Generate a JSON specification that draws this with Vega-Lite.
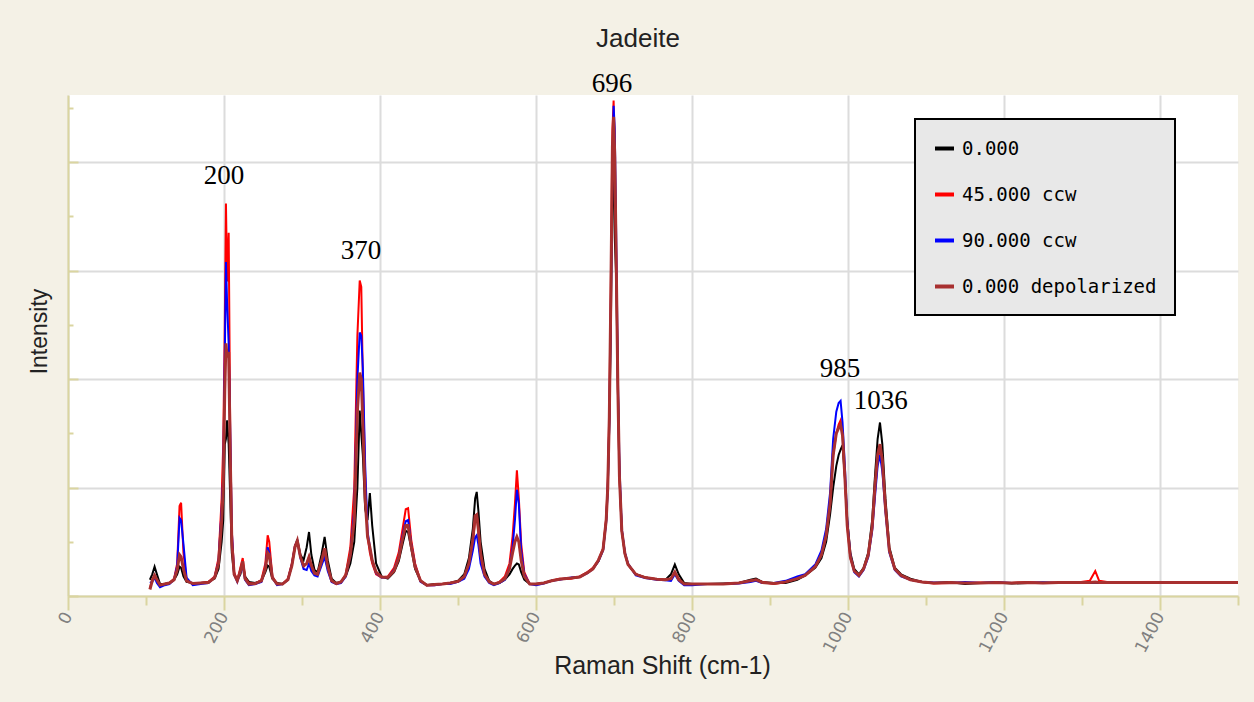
{
  "$schema": "https://vega.github.io/schema/vega-lite/v6.json",
  "width": 1170,
  "height": 501,
  "autosize": {"type": "none"},
  "padding": {"left": 68, "top": 95, "right": 16, "bottom": 106},
  "background": "#f4f1e6",
  "title": {"text": "Jadeite", "font": "Liberation Sans", "fontSize": 26, "fontWeight": "normal", "color": "#222222", "anchor": "middle", "frame": "group", "dx": -15, "dy": 25, "offset": 22, "baseline": "alphabetic"},
  "config": {"view": {"fill": "#ffffff", "stroke": null}},
  "resolve": {"axis": {"x": "independent", "y": "independent"}},
  "data": {"values": [
    {"x":105,"a":150,"b":70,"c":120,"d":60},
    {"x":108,"a":200,"b":150,"c":130,"d":140},
    {"x":111,"a":270,"b":190,"c":170,"d":190},
    {"x":114,"a":200,"b":150,"c":120,"d":150},
    {"x":118,"a":110,"b":100,"c":80,"d":100},
    {"x":124,"a":110,"b":110,"c":100,"d":110},
    {"x":130,"a":120,"b":120,"c":110,"d":120},
    {"x":136,"a":150,"b":160,"c":150,"d":150},
    {"x":140,"a":200,"b":300,"c":280,"d":240},
    {"x":143,"a":270,"b":830,"c":720,"d":380},
    {"x":145,"a":260,"b":860,"c":700,"d":360},
    {"x":148,"a":180,"b":400,"c":480,"d":250},
    {"x":152,"a":130,"b":150,"c":170,"d":140},
    {"x":160,"a":120,"b":110,"c":100,"d":115},
    {"x":170,"a":120,"b":120,"c":110,"d":120},
    {"x":180,"a":130,"b":130,"c":120,"d":125},
    {"x":188,"a":160,"b":180,"c":170,"d":170},
    {"x":193,"a":250,"b":350,"c":320,"d":300},
    {"x":197,"a":500,"b":900,"c":800,"d":700},
    {"x":199,"a":700,"b":1400,"c":1100,"d":1000},
    {"x":201,"a":1400,"b":2500,"c":2200,"d":1900},
    {"x":202.5,"a":1450,"b":3620,"c":3080,"d":2330},
    {"x":204,"a":1620,"b":2900,"c":2700,"d":2200},
    {"x":206,"a":1400,"b":3350,"c":2320,"d":2250},
    {"x":208,"a":900,"b":1500,"c":1500,"d":1300},
    {"x":210,"a":400,"b":600,"c":600,"d":500},
    {"x":213,"a":200,"b":220,"c":200,"d":200},
    {"x":217,"a":150,"b":140,"c":130,"d":140},
    {"x":221,"a":200,"b":260,"c":220,"d":230},
    {"x":224,"a":300,"b":350,"c":280,"d":320},
    {"x":227,"a":180,"b":170,"c":150,"d":160},
    {"x":232,"a":130,"b":120,"c":100,"d":110},
    {"x":240,"a":120,"b":110,"c":110,"d":115},
    {"x":248,"a":140,"b":150,"c":130,"d":140},
    {"x":253,"a":220,"b":300,"c":260,"d":250},
    {"x":256,"a":280,"b":560,"c":450,"d":400},
    {"x":258,"a":270,"b":500,"c":400,"d":380},
    {"x":262,"a":160,"b":180,"c":170,"d":170},
    {"x":268,"a":120,"b":110,"c":100,"d":110},
    {"x":275,"a":110,"b":110,"c":110,"d":110},
    {"x":282,"a":150,"b":160,"c":150,"d":150},
    {"x":287,"a":280,"b":300,"c":290,"d":280},
    {"x":291,"a":450,"b":470,"c":460,"d":450},
    {"x":294,"a":520,"b":500,"c":510,"d":510},
    {"x":298,"a":380,"b":360,"c":350,"d":360},
    {"x":302,"a":330,"b":270,"c":250,"d":280},
    {"x":306,"a":450,"b":300,"c":240,"d":300},
    {"x":309,"a":590,"b":360,"c":300,"d":360},
    {"x":312,"a":380,"b":260,"c":230,"d":280},
    {"x":316,"a":240,"b":200,"c":190,"d":210},
    {"x":320,"a":220,"b":200,"c":180,"d":200},
    {"x":325,"a":380,"b":330,"c":280,"d":320},
    {"x":329,"a":545,"b":424,"c":360,"d":440},
    {"x":333,"a":330,"b":260,"c":230,"d":270},
    {"x":338,"a":160,"b":140,"c":130,"d":140},
    {"x":344,"a":120,"b":110,"c":110,"d":115},
    {"x":350,"a":130,"b":130,"c":120,"d":130},
    {"x":356,"a":180,"b":200,"c":180,"d":190},
    {"x":362,"a":300,"b":450,"c":380,"d":380},
    {"x":367,"a":500,"b":1000,"c":800,"d":700},
    {"x":371,"a":1000,"b":2400,"c":2000,"d":1700},
    {"x":374,"a":1710,"b":2910,"c":2430,"d":2060},
    {"x":376,"a":1500,"b":2850,"c":2400,"d":2000},
    {"x":378,"a":1300,"b":2000,"c":2100,"d":1600},
    {"x":381,"a":800,"b":1100,"c":1200,"d":900},
    {"x":384,"a":700,"b":550,"c":600,"d":550},
    {"x":387,"a":950,"b":400,"c":450,"d":450},
    {"x":390,"a":650,"b":300,"c":330,"d":330},
    {"x":395,"a":300,"b":200,"c":210,"d":220},
    {"x":402,"a":180,"b":170,"c":170,"d":175},
    {"x":410,"a":160,"b":180,"c":170,"d":170},
    {"x":418,"a":220,"b":260,"c":240,"d":230},
    {"x":424,"a":320,"b":400,"c":360,"d":350},
    {"x":429,"a":480,"b":620,"c":560,"d":530},
    {"x":433,"a":600,"b":800,"c":690,"d":650},
    {"x":436,"a":590,"b":810,"c":700,"d":650},
    {"x":440,"a":440,"b":520,"c":480,"d":460},
    {"x":445,"a":250,"b":300,"c":280,"d":270},
    {"x":452,"a":140,"b":140,"c":130,"d":140},
    {"x":460,"a":100,"b":100,"c":100,"d":100},
    {"x":470,"a":110,"b":100,"c":100,"d":105},
    {"x":480,"a":110,"b":110,"c":110,"d":110},
    {"x":490,"a":120,"b":120,"c":110,"d":120},
    {"x":500,"a":140,"b":130,"c":130,"d":135},
    {"x":508,"a":200,"b":170,"c":160,"d":180},
    {"x":514,"a":350,"b":290,"c":250,"d":300},
    {"x":519,"a":620,"b":500,"c":420,"d":520},
    {"x":522,"a":900,"b":700,"c":540,"d":740},
    {"x":524,"a":960,"b":750,"c":560,"d":750},
    {"x":526,"a":800,"b":620,"c":480,"d":620},
    {"x":529,"a":500,"b":380,"c":300,"d":390},
    {"x":534,"a":250,"b":200,"c":180,"d":200},
    {"x":540,"a":140,"b":130,"c":120,"d":130},
    {"x":546,"a":110,"b":110,"c":100,"d":110},
    {"x":553,"a":120,"b":130,"c":120,"d":125},
    {"x":560,"a":150,"b":180,"c":150,"d":160},
    {"x":566,"a":200,"b":300,"c":260,"d":250},
    {"x":570,"a":250,"b":550,"c":450,"d":400},
    {"x":573,"a":280,"b":850,"c":700,"d":500},
    {"x":575.5,"a":300,"b":1160,"c":980,"d":545},
    {"x":578,"a":290,"b":900,"c":850,"d":500},
    {"x":581,"a":220,"b":480,"c":420,"d":330},
    {"x":585,"a":150,"b":220,"c":200,"d":180},
    {"x":592,"a":110,"b":110,"c":110,"d":110},
    {"x":600,"a":110,"b":110,"c":100,"d":110},
    {"x":610,"a":120,"b":120,"c":115,"d":120},
    {"x":620,"a":140,"b":140,"c":140,"d":140},
    {"x":630,"a":155,"b":160,"c":150,"d":155},
    {"x":645,"a":165,"b":160,"c":170,"d":165},
    {"x":656,"a":175,"b":180,"c":175,"d":175},
    {"x":666,"a":215,"b":220,"c":210,"d":215},
    {"x":673,"a":250,"b":260,"c":250,"d":250},
    {"x":680,"a":320,"b":330,"c":320,"d":330},
    {"x":686,"a":430,"b":440,"c":420,"d":430},
    {"x":690,"a":700,"b":720,"c":680,"d":700},
    {"x":692,"a":1000,"b":1050,"c":980,"d":1000},
    {"x":694,"a":1600,"b":1700,"c":1600,"d":1650},
    {"x":696,"a":2500,"b":2900,"c":2700,"d":2800},
    {"x":698,"a":3940,"b":4300,"c":3900,"d":4150},
    {"x":699.5,"a":3800,"b":4570,"c":4520,"d":4420},
    {"x":701,"a":3300,"b":4100,"c":4300,"d":4050},
    {"x":703,"a":2900,"b":3000,"c":3200,"d":3000},
    {"x":705,"a":1900,"b":1900,"c":2000,"d":1900},
    {"x":707,"a":1100,"b":1100,"c":1200,"d":1100},
    {"x":710,"a":600,"b":600,"c":620,"d":600},
    {"x":714,"a":390,"b":390,"c":400,"d":390},
    {"x":718,"a":290,"b":290,"c":300,"d":290},
    {"x":728,"a":200,"b":200,"c":190,"d":200},
    {"x":740,"a":170,"b":170,"c":165,"d":170},
    {"x":755,"a":155,"b":155,"c":150,"d":155},
    {"x":766,"a":150,"b":150,"c":145,"d":150},
    {"x":773,"a":200,"b":160,"c":140,"d":160},
    {"x":778,"a":290,"b":220,"c":200,"d":220},
    {"x":783,"a":200,"b":160,"c":140,"d":150},
    {"x":790,"a":120,"b":110,"c":100,"d":110},
    {"x":800,"a":110,"b":110,"c":100,"d":110},
    {"x":820,"a":110,"b":110,"c":110,"d":110},
    {"x":840,"a":115,"b":110,"c":110,"d":110},
    {"x":860,"a":120,"b":120,"c":115,"d":120},
    {"x":875,"a":150,"b":140,"c":130,"d":140},
    {"x":882,"a":160,"b":150,"c":140,"d":150},
    {"x":890,"a":130,"b":130,"c":120,"d":125},
    {"x":905,"a":120,"b":110,"c":120,"d":115},
    {"x":920,"a":120,"b":130,"c":140,"d":130},
    {"x":935,"a":150,"b":160,"c":180,"d":160},
    {"x":945,"a":190,"b":190,"c":200,"d":190},
    {"x":958,"a":260,"b":270,"c":290,"d":270},
    {"x":966,"a":350,"b":380,"c":420,"d":380},
    {"x":972,"a":500,"b":550,"c":620,"d":560},
    {"x":977,"a":750,"b":850,"c":950,"d":850},
    {"x":981,"a":1000,"b":1300,"c":1450,"d":1300},
    {"x":985,"a":1200,"b":1500,"c":1700,"d":1500},
    {"x":988,"a":1300,"b":1580,"c":1780,"d":1550},
    {"x":990.5,"a":1350,"b":1620,"c":1800,"d":1580},
    {"x":993,"a":1390,"b":1500,"c":1600,"d":1480},
    {"x":996,"a":1100,"b":1100,"c":1200,"d":1100},
    {"x":999,"a":700,"b":650,"c":700,"d":650},
    {"x":1003,"a":400,"b":350,"c":380,"d":360},
    {"x":1008,"a":250,"b":230,"c":220,"d":230},
    {"x":1014,"a":200,"b":190,"c":180,"d":190},
    {"x":1020,"a":260,"b":250,"c":240,"d":250},
    {"x":1026,"a":400,"b":380,"c":360,"d":380},
    {"x":1031,"a":700,"b":620,"c":600,"d":640},
    {"x":1035,"a":1150,"b":1000,"c":950,"d":1050},
    {"x":1038,"a":1450,"b":1250,"c":1200,"d":1300},
    {"x":1041,"a":1600,"b":1370,"c":1300,"d":1400},
    {"x":1044,"a":1400,"b":1200,"c":1150,"d":1250},
    {"x":1048,"a":900,"b":800,"c":780,"d":820},
    {"x":1053,"a":450,"b":420,"c":400,"d":420},
    {"x":1060,"a":260,"b":250,"c":240,"d":250},
    {"x":1068,"a":200,"b":190,"c":180,"d":190},
    {"x":1080,"a":160,"b":150,"c":150,"d":150},
    {"x":1095,"a":130,"b":130,"c":130,"d":130},
    {"x":1110,"a":120,"b":115,"c":125,"d":120},
    {"x":1130,"a":130,"b":120,"c":120,"d":125},
    {"x":1150,"a":110,"b":120,"c":130,"d":120},
    {"x":1170,"a":120,"b":125,"c":120,"d":120},
    {"x":1190,"a":125,"b":120,"c":130,"d":125},
    {"x":1210,"a":115,"b":120,"c":120,"d":120},
    {"x":1230,"a":120,"b":130,"c":120,"d":125},
    {"x":1250,"a":125,"b":120,"c":125,"d":120},
    {"x":1270,"a":120,"b":125,"c":120,"d":125},
    {"x":1290,"a":125,"b":120,"c":130,"d":125},
    {"x":1310,"a":120,"b":140,"c":125,"d":125},
    {"x":1317,"a":125,"b":230,"c":130,"d":130},
    {"x":1322,"a":120,"b":140,"c":125,"d":125},
    {"x":1340,"a":125,"b":120,"c":130,"d":125},
    {"x":1360,"a":120,"b":125,"c":125,"d":125},
    {"x":1380,"a":125,"b":120,"c":130,"d":125},
    {"x":1400,"a":120,"b":125,"c":130,"d":125},
    {"x":1420,"a":125,"b":120,"c":125,"d":125},
    {"x":1440,"a":120,"b":125,"c":130,"d":125},
    {"x":1460,"a":125,"b":120,"c":125,"d":125},
    {"x":1480,"a":120,"b":125,"c":130,"d":125},
    {"x":1500,"a":125,"b":125,"c":130,"d":125}
  ]},
  "layer": [
    {
      "transform": [{"fold": ["a", "b", "c", "d"], "as": ["series", "value"]}, {"filter": "datum.series != 'd'"}],
      "mark": {"type": "line", "interpolate": "linear", "strokeWidth": 2},
      "encoding": {
        "x": {"field": "x", "type": "quantitative", "scale": {"domain": [0, 1500], "nice": false},
          "axis": {"values": [0, 200, 400, 600, 800, 1000, 1200, 1400], "format": "d", "title": "Raman Shift (cm-1)",
            "grid": true, "gridColor": "#dcdcdc", "gridWidth": 2,
            "domainColor": "#dad5a0", "domainWidth": 2, "tickColor": "#dad5a0", "tickWidth": 2, "tickSize": 14,
            "labelAngle": -62, "labelAlign": "right", "labelBaseline": "middle", "labelPadding": 3,
            "labelFont": "DejaVu Sans", "labelFontSize": 17, "labelColor": "#808080",
            "titleFont": "Liberation Sans", "titleFontSize": 25, "titleFontWeight": "normal", "titleColor": "#222222",
            "titleX": 594, "titleY": 77, "titleAlign": "center", "titleBaseline": "alphabetic"}},
        "y": {"field": "value", "type": "quantitative", "scale": {"domain": [0, 4620], "nice": false},
          "axis": {"values": [0, 1000, 2000, 3000, 4000], "labels": false, "title": "Intensity",
            "grid": true, "gridColor": "#dcdcdc", "gridWidth": 2,
            "domainColor": "#dad5a0", "domainWidth": 2, "tickColor": "#dad5a0", "tickWidth": 2, "tickSize": -10,
            "titleFont": "Liberation Sans", "titleFontSize": 23, "titleFontWeight": "normal", "titleColor": "#222222",
            "titleX": -29, "titleY": 236, "titleAngle": 270, "titleAlign": "center", "titleBaseline": "middle"}},
        "color": {"field": "series", "type": "nominal",
          "scale": {"domain": ["a", "b", "c", "d"], "range": ["#000000", "#ff0000", "#0000ff", "#a83030"]},
          "legend": {"orient": "none", "legendX": 847, "legendY": 24, "title": null,
            "fillColor": "#e8e8e8", "strokeColor": "#000000", "padding": 18,
            "symbolType": "stroke", "symbolSize": 361, "symbolStrokeWidth": 4,
            "labelFont": "DejaVu Sans Mono", "labelFontSize": 19, "labelColor": "#000000", "labelOffset": 6, "labelLimit": 400,
            "rowPadding": 24,
            "labelExpr": "datum.label == 'a' ? '0.000' : datum.label == 'b' ? '45.000 ccw' : datum.label == 'c' ? '90.000 ccw' : '0.000 depolarized'",
            "encode": {"legend": {"update": {"strokeWidth": {"value": 2}}}}}}
      }
    },
    {
      "transform": [{"fold": ["a", "b", "c", "d"], "as": ["series", "value"]}, {"filter": "datum.series == 'd'"}],
      "mark": {"type": "line", "interpolate": "linear", "strokeWidth": 3},
      "encoding": {
        "x": {"field": "x", "type": "quantitative", "axis": null},
        "y": {"field": "value", "type": "quantitative", "axis": null},
        "color": {"field": "series", "type": "nominal"}
      }
    },
    {
      "data": {"values": [
        {"label": "200", "x": 200, "y": 3797},
        {"label": "370", "x": 375.6, "y": 3106},
        {"label": "696", "x": 697.4, "y": 4645},
        {"label": "985", "x": 989.7, "y": 2018},
        {"label": "1036", "x": 1042, "y": 1724}
      ]},
      "mark": {"type": "text", "font": "Liberation Serif", "fontSize": 27, "baseline": "alphabetic", "align": "center", "color": "#000000"},
      "encoding": {
        "x": {"field": "x", "type": "quantitative",
          "axis": {"orient": "bottom", "values": [100, 300, 500, 700, 900, 1100, 1300, 1500], "labels": false, "domain": false, "grid": false, "title": null,
            "tickSize": 9, "tickColor": "#dad5a0", "tickWidth": 2}},
        "y": {"field": "y", "type": "quantitative",
          "axis": {"orient": "left", "values": [500, 1500, 2500, 3500, 4500], "labels": false, "domain": false, "grid": false, "title": null,
            "tickSize": -5, "tickColor": "#dad5a0", "tickWidth": 2}},
        "text": {"field": "label"}
      }
    }
  ]
}
